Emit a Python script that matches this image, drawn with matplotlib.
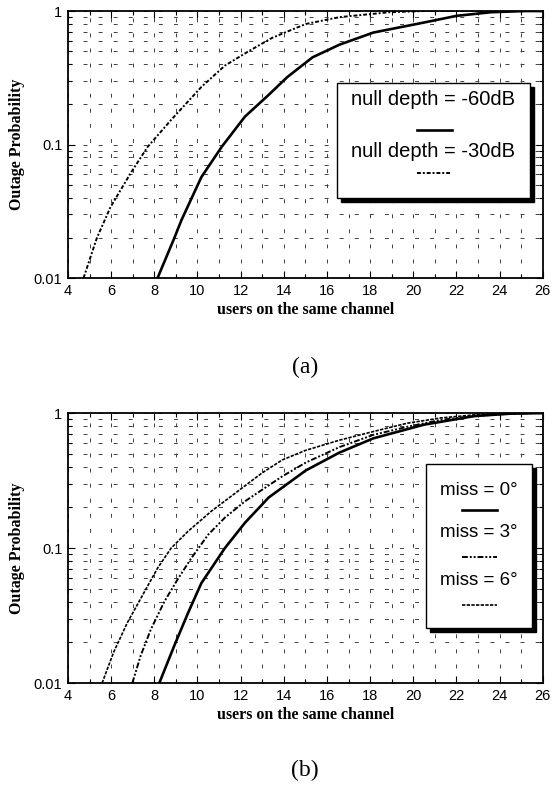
import matplotlib
matplotlib.use("Agg")
import matplotlib.pyplot as plt
from matplotlib.ticker import FixedLocator, FixedFormatter, MultipleLocator
from matplotlib.patches import Rectangle
from matplotlib.lines import Line2D

# -------------------------------
# Data
# -------------------------------
# (a) null depth curves
x_60db = [8.15, 8.93, 9.25, 10.18, 11.12, 12.2, 13.23, 14.16, 15.33, 16.58, 18.15, 20.49, 22.0, 23.6, 25.2, 26]
y_60db = [0.01, 0.020, 0.027, 0.057, 0.096, 0.162, 0.23, 0.32, 0.45, 0.56, 0.69, 0.82, 0.92, 0.98, 1.0, 1.0]

x_30db = [4.72, 5.34, 5.97, 6.9, 7.69, 8.78, 10.18, 11.27, 12.37, 13.46, 15.02, 16.58, 18.9, 20.5, 26]
y_30db = [0.01, 0.02, 0.034, 0.061, 0.096, 0.153, 0.27, 0.39, 0.50, 0.63, 0.80, 0.90, 0.98, 1.0, 1.0]

# (b) pointing error curves
x_miss0 = [8.23, 8.93, 9.56, 10.18, 11.27, 12.2, 13.3, 15.02, 16.58, 18.15, 20.49, 22.83, 24.5, 26]
y_miss0 = [0.01, 0.019, 0.033, 0.055, 0.1, 0.154, 0.237, 0.376, 0.51, 0.65, 0.82, 0.95, 0.99, 1.0]

x_miss3 = [6.98, 7.37, 7.84, 8.46, 9.09, 9.71, 10.5, 11.27, 12.2, 12.99, 13.93, 15.02, 16.58, 18.15, 19.7, 21.27, 22.83, 24.5, 26]
y_miss3 = [0.01, 0.016, 0.025, 0.04, 0.059, 0.084, 0.126, 0.168, 0.222, 0.27, 0.34, 0.43, 0.56, 0.69, 0.79, 0.89, 0.95, 0.99, 1.0]

x_miss6 = [5.58, 6.12, 6.75, 7.53, 8.15, 8.78, 9.56, 10.65, 11.9, 12.99, 13.93, 15.02, 16.58, 18.15, 19.7, 21.27, 22.83, 24.5, 26]
y_miss6 = [0.01, 0.017, 0.028, 0.047, 0.071, 0.1, 0.133, 0.188, 0.266, 0.36, 0.45, 0.53, 0.63, 0.73, 0.84, 0.92, 0.97, 0.995, 1.0]

x_ticks = [4, 6, 8, 10, 12, 14, 16, 18, 20, 22, 24, 26]
y_ticks = [0.01, 0.1, 1]
y_tick_labels = ["0.01", "0.1", "1"]

legend_a = ["null depth = -60dB", "null depth = -30dB"]
legend_b = ["miss = 0°", "miss = 3°", "miss = 6°"]

SANS = "Liberation Sans"
SERIF = "Liberation Serif"

style_60 = dict(color="black", lw=1.9, ls="-")
style_30 = dict(color="black", lw=1.4, ls=(0, (2, 1, 1, 1)))
style_m3 = dict(color="black", lw=1.4, ls=(0, (3, 1, 1, 1, 1, 1)))
style_m6 = dict(color="black", lw=1.2, ls=(0, (2, 0.8)))

fig = plt.figure(figsize=(5.56, 7.88), dpi=100)
ax_a = fig.add_axes([0.1223, 0.6472, 0.854, 0.3388])
ax_b = fig.add_axes([0.1223, 0.1332, 0.854, 0.3426])


def setup_axes(ax):
    ax.set_yscale("log")
    ax.set_xlim(4, 26)
    ax.set_ylim(0.01, 1)
    ax.xaxis.set_major_locator(FixedLocator(x_ticks))
    ax.xaxis.set_minor_locator(MultipleLocator(1))
    ax.yaxis.set_major_locator(FixedLocator(y_ticks))
    ax.yaxis.set_major_formatter(FixedFormatter(y_tick_labels))
    ax.tick_params(which="both", direction="in", top=True, right=True, width=0.8)
    ax.tick_params(which="major", length=5, labelsize=10.5, pad=4)
    ax.tick_params(which="minor", length=3)
    for lab in ax.get_xticklabels() + ax.get_yticklabels():
        lab.set_fontfamily(SANS)
    for sp in ax.spines.values():
        sp.set_linewidth(1.3)
    ax.grid(True, which="both", color="0.25", lw=0.7, ls=(0, (4, 11.5)))
    ax.set_xlabel("users on the same channel", fontfamily=SERIF, fontweight="bold",
                  fontsize=11.5, labelpad=3)
    ax.set_ylabel("Outage Probability", fontfamily=SERIF, fontweight="bold",
                  fontsize=11.5, labelpad=6)


def draw_legend(ax, box, labels, styles, text_y, line_y, line_x, size):
    x0, y0, x1, y1 = box
    shadow = Rectangle((x0 + 0.009, y0 - 0.016), x1 - x0, y1 - y0, transform=ax.transAxes,
                       facecolor="black", edgecolor="black", zorder=5)
    frame = Rectangle((x0, y0), x1 - x0, y1 - y0, transform=ax.transAxes,
                      facecolor="white", edgecolor="black", lw=1.0, zorder=6)
    ax.add_patch(shadow)
    ax.add_patch(frame)
    xc = (x0 + x1) / 2
    for lab, st, ty, ly in zip(labels, styles, text_y, line_y):
        ax.text(xc, ty, lab, transform=ax.transAxes, ha="center", va="center",
                fontfamily=SANS, fontsize=size, zorder=7)
        ax.add_line(Line2D(line_x, [ly, ly], transform=ax.transAxes, zorder=7,
                           color=st["color"], lw=st["lw"], ls=st["ls"]))


# -------------------------------
# Panel (a)
# -------------------------------
setup_axes(ax_a)
ax_a.plot(x_60db, y_60db, **style_60)
ax_a.plot(x_30db, y_30db, **style_30)
draw_legend(ax_a, (0.566, 0.300, 0.973, 0.730), legend_a, [style_60, style_30],
            [0.667, 0.472], [0.554, 0.393], [0.735, 0.808], 14.5)

# -------------------------------
# Panel (b)
# -------------------------------
setup_axes(ax_b)
ax_b.plot(x_miss0, y_miss0, **style_60)
ax_b.plot(x_miss3, y_miss3, **style_m3)
ax_b.plot(x_miss6, y_miss6, **style_m6)
draw_legend(ax_b, (0.754, 0.204, 0.977, 0.811), legend_b, [style_60, style_m3, style_m6],
            [0.715, 0.556, 0.381], [0.641, 0.467, 0.289], [0.829, 0.903], 13.5)

fig.text(0.549, 1 - 367 / 788, "(a)", ha="center", va="center", fontfamily=SERIF, fontsize=17)
fig.text(0.549, 1 - 770 / 788, "(b)", ha="center", va="center", fontfamily=SERIF, fontsize=17)

fig.savefig("out.png", dpi=100)
